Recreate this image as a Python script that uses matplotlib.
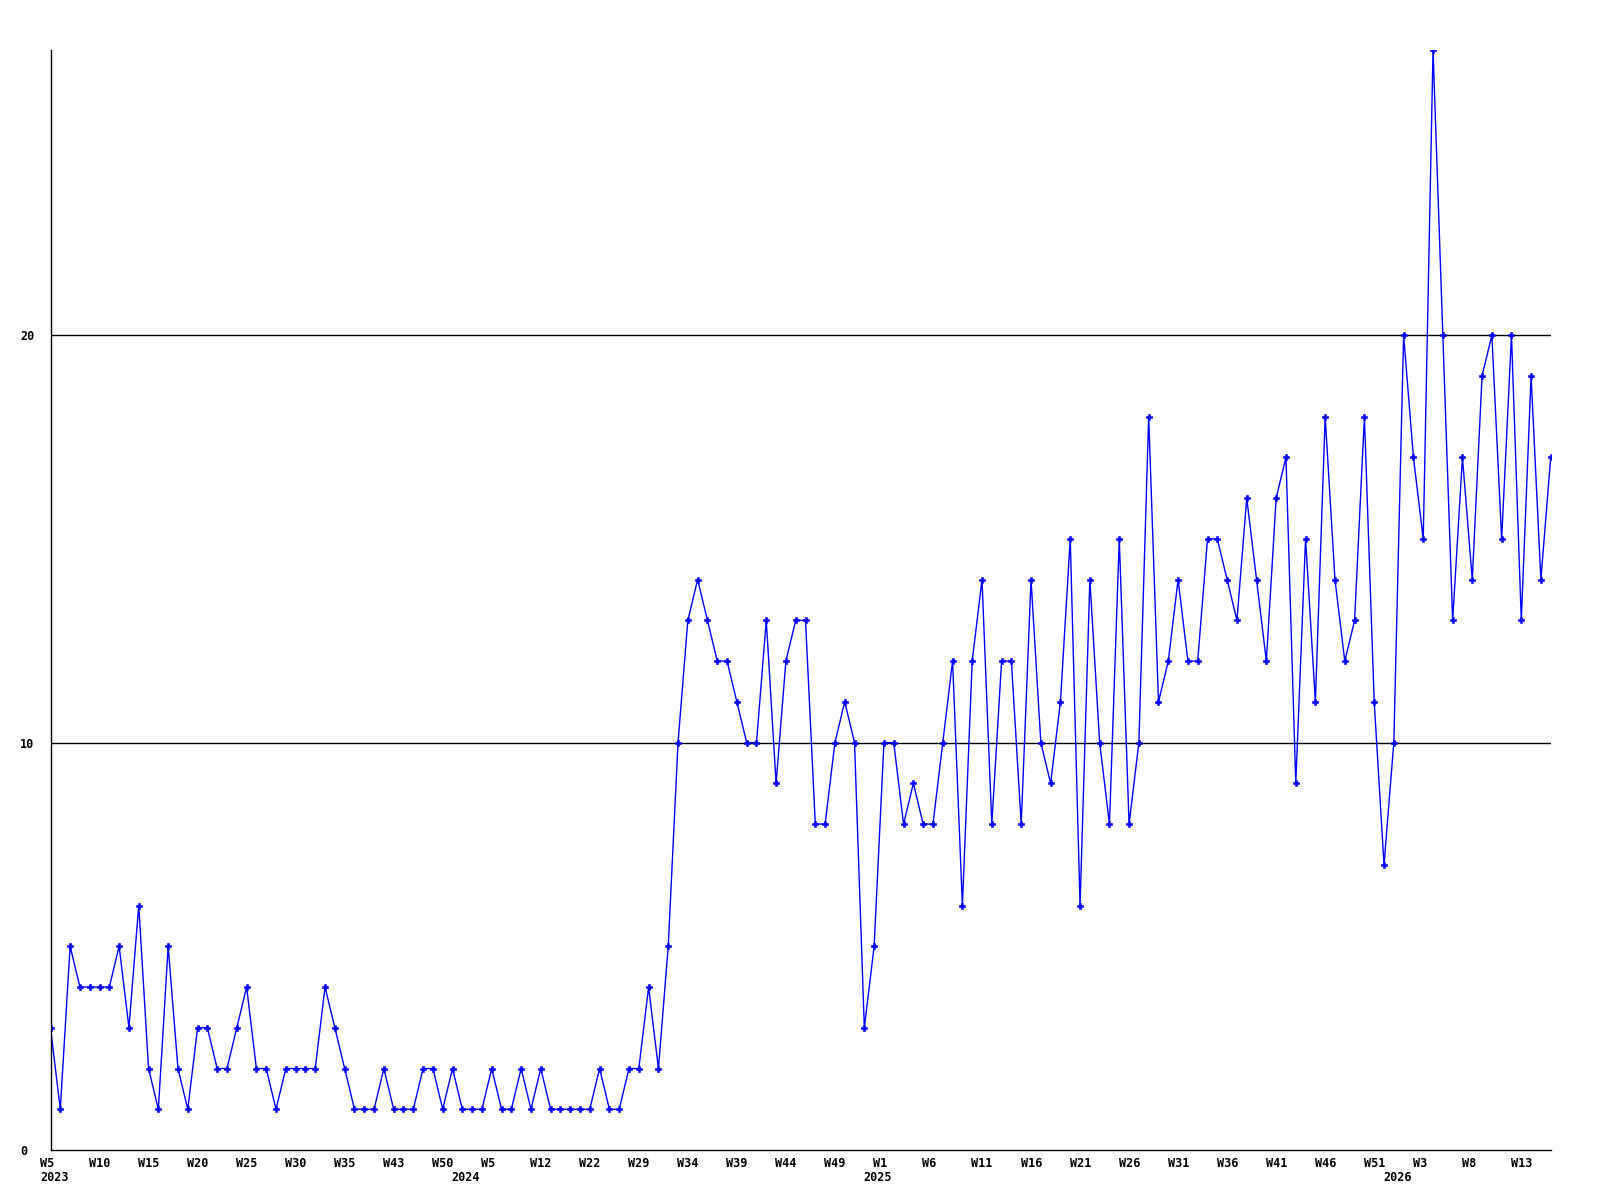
import matplotlib
matplotlib.use('Agg')
import matplotlib.pyplot as plt
import matplotlib.transforms as mtransforms

# weekly counts, one value per data point (weeks with no data are skipped)
counts = [3, 1, 5, 4, 4, 4, 4, 5, 3, 6,
          2, 1, 5, 2, 1, 3, 3, 2, 2, 3,
          4, 2, 2, 1, 2, 2, 2, 2, 4, 3,
          2, 1, 1, 1, 2, 1, 1, 1, 2, 2,
          1, 2, 1, 1, 1, 2, 1, 1, 2, 1,
          2, 1, 1, 1, 1, 1, 2, 1, 1, 2,
          2, 4, 2, 5, 10, 13, 14, 13, 12, 12,
          11, 10, 10, 13, 9, 12, 13, 13, 8, 8,
          10, 11, 10, 3, 5, 10, 10, 8, 9, 8,
          8, 10, 12, 6, 12, 14, 8, 12, 12, 8,
          14, 10, 9, 11, 15, 6, 14, 10, 8, 15,
          8, 10, 18, 11, 12, 14, 12, 12, 15, 15,
          14, 13, 16, 14, 12, 16, 17, 9, 15, 11,
          18, 14, 12, 13, 18, 11, 7, 10, 20, 17,
          15, 27, 20, 13, 17, 14, 19, 20, 15, 20,
          13, 19, 14, 17]

# every 5th point gets a week label
week_labels = ['W5', 'W10', 'W15', 'W20', 'W25', 'W30', 'W35', 'W43', 'W50',
               'W5', 'W12', 'W22', 'W29', 'W34', 'W39', 'W44', 'W49',
               'W1', 'W6', 'W11', 'W16', 'W21', 'W26', 'W31', 'W36', 'W41',
               'W46', 'W51', 'W3', 'W8', 'W13']
week_label_idx = list(range(0, 5 * len(week_labels), 5))

year_labels = ['2023', '2024', '2025', '2026']
year_label_idx = [0, 42, 84, 137]

y_ticks = [0, 10, 20]

FONT = dict(family='DejaVu Sans Mono', weight='bold', size=8.5)

fig = plt.figure(figsize=(16, 12), dpi=100)
ax = fig.add_axes([50.5 / 1600, 50 / 1200, 1500.2 / 1600, 1100 / 1200])

x = list(range(len(counts)))
ax.plot(x, counts, color='#0000ff', linewidth=1.0, marker='P',
        markersize=5, markeredgewidth=0.4)

ax.set_xlim(0, len(counts) - 1)
ax.set_ylim(0, 27)

for s in ['top', 'right']:
    ax.spines[s].set_visible(False)
for s in ['left', 'bottom']:
    ax.spines[s].set_color('black')
    ax.spines[s].set_linewidth(1.0)

for v in y_ticks[1:]:
    ax.axhline(v, color='black', linewidth=1.0, zorder=0)

# y labels, left aligned near the figure edge
ax.set_yticks(y_ticks)
ax.set_yticklabels([str(v) for v in y_ticks], fontdict=FONT, ha='left')
ax.tick_params(axis='y', length=0, pad=22)

# week labels, left aligned slightly before each point
ax.set_xticks(week_label_idx)
ax.set_xticklabels(week_labels, fontdict=FONT, ha='left')
ax.tick_params(axis='x', length=0, pad=5)
shift = mtransforms.ScaledTranslation(-10.5 / 100, 0, fig.dpi_scale_trans)
for lab in ax.get_xticklabels():
    lab.set_transform(lab.get_transform() + shift)

# year labels under the week labels
trans = mtransforms.blended_transform_factory(ax.transData, fig.transFigure)
for idx, yl in zip(year_label_idx, year_labels):
    ax.text(idx, 1 - 1171 / 1200, yl, transform=trans + shift,
            ha='left', va='top', **FONT)

fig.savefig('out.png', dpi=100, facecolor='white')
